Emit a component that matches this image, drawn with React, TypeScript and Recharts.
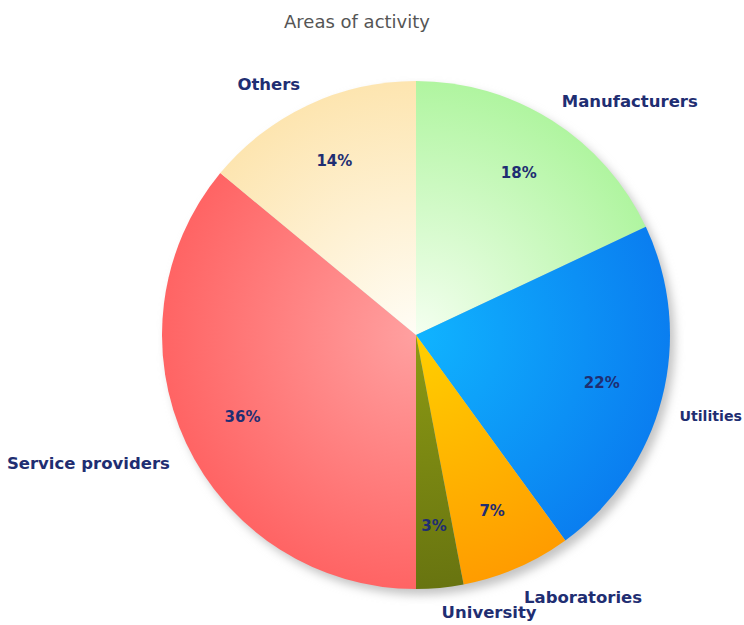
import { Cell, Pie, PieChart } from "recharts";

const categories = ["Manufacturers", "Utilities", "Laboratories", "University", "Service providers", "Others"];
const shares = [18, 22, 7, 3, 36, 14];

const innerColors = ["#f4fff0", "#10b4ff", "#ffd000", "#8c9a14", "#ffa0a0", "#fffdf6"];
const outerColors = ["#b0f5a0", "#0a7ef0", "#ff9c00", "#687410", "#ff6464", "#fde5b0"];

const data = categories.map((name, i) => ({ name, value: shares[i] }));

const W = 744;
const H = 625;
const CX = 416;
const CY = 335;
const R = 254;
const RAD = Math.PI / 180;
const navy = "#1f2e72";
const font = "'DejaVu Sans', sans-serif";
const nameSize = 16.5;

const renderLabel = (props: any) => {
    const { cx, cy, midAngle, outerRadius, index } = props;
    const cos = Math.cos(-midAngle * RAD);
    const sin = Math.sin(-midAngle * RAD);
    const pr = outerRadius * 0.755;
    const nr = outerRadius + 18;
    const px = cx + pr * cos;
    const py = cy + pr * sin;
    const nx = cx + nr * cos;
    const ny = Math.min(cy + nr * sin + (sin > 0 ? 13 : -4), H - 13);
    const name = categories[index];
    // rough width of the bold label, use a smaller size if it would run off the right edge
    const room = W - 2 - nx;
    const size = cos >= 0 ? Math.min(nameSize, room / (name.length * 0.49)) : nameSize;
    return (
        <g>
            <text x={px} y={py} textAnchor="middle" dominantBaseline="central"
                fill={navy} fontSize={15} fontWeight={700} fontFamily={font}>
                {`${shares[index]}%`}
            </text>
            <text x={nx} y={ny} textAnchor={cos >= 0 ? "start" : "end"} dominantBaseline="central"
                fill={navy} fontSize={size} fontWeight={700} fontFamily={font}>
                {name}
            </text>
        </g>
    );
};

export default function App() {
    return (
        <div style={{ position: "absolute", left: 0, top: 0, width: W, height: H, background: "#fff" }}>
            <PieChart width={W} height={H} margin={{ top: 0, right: 0, bottom: 0, left: 0 }}>
                <defs>
                    {categories.map((c, i) => (
                        <radialGradient key={c} id={`grad${i}`} gradientUnits="userSpaceOnUse" cx={CX} cy={CY} r={R}>
                            <stop offset="0%" stopColor={innerColors[i]} />
                            <stop offset="100%" stopColor={outerColors[i]} />
                        </radialGradient>
                    ))}
                    <filter id="shadow" x="-20%" y="-20%" width="140%" height="140%">
                        <feGaussianBlur stdDeviation="5" />
                    </filter>
                </defs>
                <Pie
                    data={[{ name: "shadow", value: 1 }]}
                    dataKey="value"
                    cx={CX + 5}
                    cy={CY + 6}
                    outerRadius={R}
                    stroke="none"
                    fill="#c4c4c4"
                    filter="url(#shadow)"
                    isAnimationActive={false}
                    label={false}
                    labelLine={false}
                />
                <Pie
                    data={data}
                    dataKey="value"
                    nameKey="name"
                    cx={CX}
                    cy={CY}
                    outerRadius={R}
                    startAngle={90}
                    endAngle={-270}
                    stroke="none"
                    isAnimationActive={false}
                    labelLine={false}
                    label={renderLabel}
                >
                    {data.map((d, i) => (
                        <Cell key={d.name} fill={`url(#grad${i})`} />
                    ))}
                </Pie>
                <text x={357} y={21} textAnchor="middle" dominantBaseline="central"
                    fill="#555" fontSize={18} fontFamily={font}>
                    Areas of activity
                </text>
            </PieChart>
        </div>
    );
}
